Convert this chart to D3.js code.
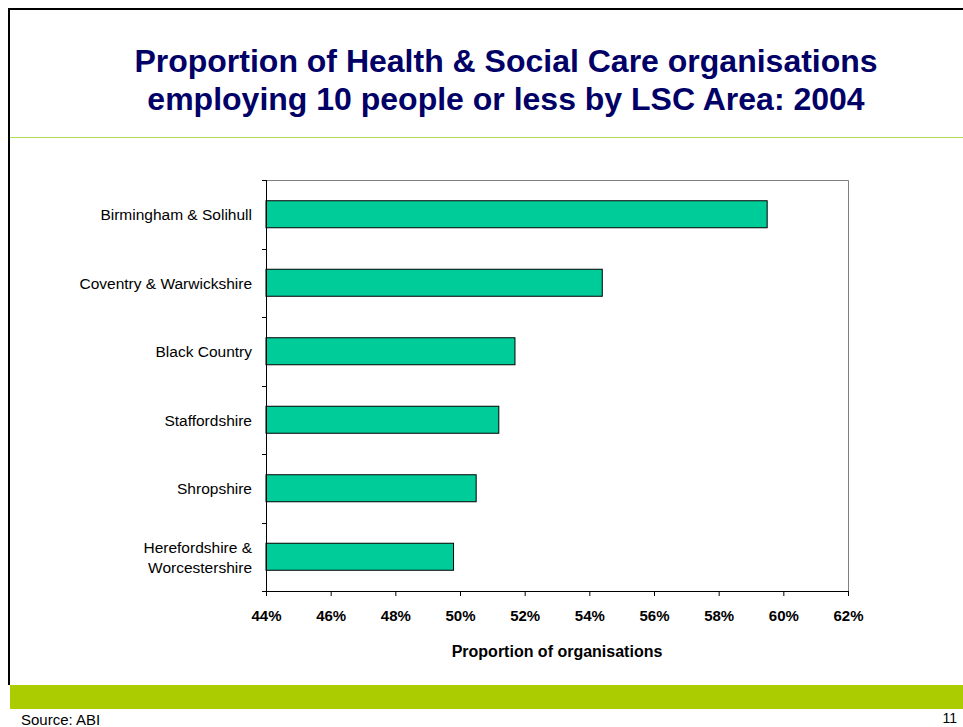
<!DOCTYPE html>
<html>
<head>
<meta charset="utf-8">
<script src="https://cdn.jsdelivr.net/npm/d3@7/dist/d3.min.js"></script>
<style>
  html, body { margin: 0; padding: 0; background: #fff; }
  svg { display: block; font-family: "Liberation Sans", Arial, sans-serif; }
</style>
</head>
<body>
<svg id="chart" width="963" height="727"></svg>
<script>
// LSC areas, top to bottom
const areas = [
  ["Birmingham & Solihull"],
  ["Coventry & Warwickshire"],
  ["Black Country"],
  ["Staffordshire"],
  ["Shropshire"],
  ["Herefordshire &", "Worcestershire"]
];
// Share of organisations employing 10 people or less (%)
const shares = [59.5, 54.4, 51.7, 51.2, 50.5, 49.8];
// Axis tick values (%)
const xTicks = [44, 46, 48, 50, 52, 54, 56, 58, 60, 62];

const titleLines = [
  "Proportion of Health & Social Care organisations",
  "employing 10 people or less by LSC Area: 2004"
];

const svg = d3.select("#chart");
const W = 963, H = 727;

// Slide frame
svg.append("rect").attr("x", 0).attr("y", 0).attr("width", W).attr("height", H).attr("fill", "#fff");
svg.append("line").attr("x1", 8).attr("x2", W).attr("y1", 9).attr("y2", 9)
  .attr("stroke", "#000").attr("stroke-width", 2);
svg.append("line").attr("x1", 9).attr("x2", 9).attr("y1", 8).attr("y2", 685)
  .attr("stroke", "#000").attr("stroke-width", 2);

// Title
svg.append("text")
  .attr("x", 506).attr("y", 72)
  .attr("text-anchor", "middle")
  .attr("fill", "#000066")
  .attr("font-weight", "bold")
  .attr("font-size", 32)
  .selectAll("tspan").data(titleLines).join("tspan")
  .attr("x", 506).attr("dy", (d, i) => i === 0 ? 0 : 38)
  .text(d => d);

// Rule under the title
svg.append("line").attr("x1", 10).attr("x2", W).attr("y1", 137.5).attr("y2", 137.5)
  .attr("stroke", "#b3dd55").attr("stroke-width", 1);

// Footer band
svg.append("rect").attr("x", 10).attr("y", 685).attr("width", W - 10).attr("height", 24)
  .attr("fill", "#aacc00");
svg.append("text").attr("x", 21).attr("y", 725).attr("font-size", 15).attr("fill", "#000")
  .text("Source: ABI");
svg.append("text").attr("x", 957).attr("y", 723).attr("font-size", 14).attr("fill", "#000")
  .attr("text-anchor", "end").text("11");

// Plot area
const plot = { left: 266, right: 848, top: 180, bottom: 591 };
const x = d3.scaleLinear().domain([44, 62]).range([plot.left, plot.right]);
const yBand = d3.scaleBand().domain(d3.range(areas.length)).range([plot.top, plot.bottom]);

// Plot frame (top and right)
svg.append("path")
  .attr("d", `M${plot.left},${plot.top + 0.5}H${plot.right + 0.5}V${plot.bottom}`)
  .attr("fill", "none").attr("stroke", "#808080").attr("stroke-width", 1);

// Bars
svg.append("g").selectAll("rect").data(shares).join("rect")
  .attr("x", x(44))
  .attr("y", (d, i) => yBand(i) + yBand.bandwidth() / 2 - 13.5)
  .attr("width", d => x(d) - x(44))
  .attr("height", 27)
  .attr("fill", "#00cc99")
  .attr("stroke", "#000")
  .attr("stroke-width", 1);

// Category axis: ticks on band boundaries
const yAxisG = svg.append("g");
yAxisG.append("line").attr("x1", plot.left + 0.5).attr("x2", plot.left + 0.5)
  .attr("y1", plot.top).attr("y2", plot.bottom).attr("stroke", "#000");
const bounds = d3.range(areas.length + 1).map(i => plot.top + i * yBand.step());
yAxisG.selectAll("line.tick").data(bounds).join("line").attr("class", "tick")
  .attr("x1", plot.left - 4).attr("x2", plot.left)
  .attr("y1", d => Math.round(d) + 0.5).attr("y2", d => Math.round(d) + 0.5)
  .attr("stroke", "#000");

// Category labels
const labels = svg.append("g").attr("font-size", 15.5).attr("fill", "#000").attr("text-anchor", "end");
areas.forEach((lines, i) => {
  const cy = yBand(i) + yBand.bandwidth() / 2;
  const t = labels.append("text").attr("x", 252).attr("y", cy + 6 - (lines.length - 1) * 10);
  lines.forEach((ln, j) => {
    t.append("tspan").attr("x", 252).attr("dy", j === 0 ? 0 : 20).text(ln);
  });
});

// Value axis
const xAxis = d3.axisBottom(x).tickValues(xTicks).tickSize(5).tickFormat(d => d + "%");
const xg = svg.append("g").attr("transform", `translate(0,${plot.bottom})`).call(xAxis);
xg.select(".domain").attr("stroke", "#000").attr("d", `M${plot.left},0.5H${plot.right + 0.5}`);
xg.selectAll(".tick line").attr("stroke", "#000");
xg.selectAll(".tick text")
  .attr("font-family", "Liberation Sans, Arial, sans-serif")
  .attr("font-size", 15).attr("font-weight", "bold").attr("fill", "#000")
  .attr("dy", 0).attr("y", 30);

// Axis title
svg.append("text").attr("x", x(53)).attr("y", 657)
  .attr("text-anchor", "middle").attr("font-size", 16).attr("font-weight", "bold")
  .attr("fill", "#000").text("Proportion of organisations");
</script>
</body>
</html>
